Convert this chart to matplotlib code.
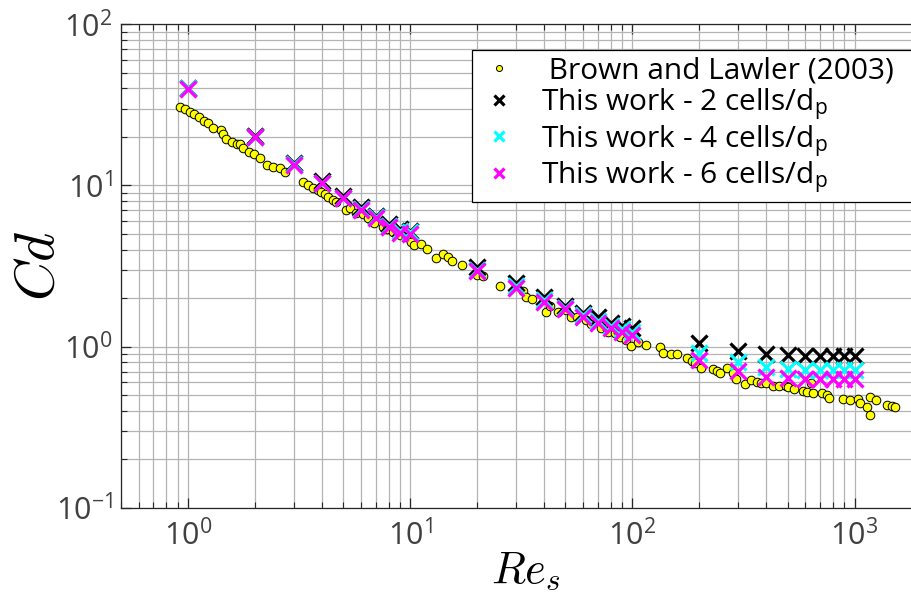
import matplotlib
matplotlib.use("Agg")
from matplotlib import pyplot as plt

# Brown and Lawler (2003) correlation data
re_exp = [0.918, 0.973, 1.018, 1.065, 1.117, 1.181, 1.231, 1.296, 1.404, 1.438,
          1.489, 1.578, 1.668, 1.709, 1.769, 1.876, 1.983, 2.102, 2.277, 2.415,
          2.588, 2.744, 3.296, 3.47, 3.656, 3.85, 3.96, 4.13, 4.27, 4.50,
          4.66, 5.16, 5.35, 5.73, 6.14, 6.47, 6.86, 7.55, 7.87, 8.38,
          8.98, 9.62, 10.13, 10.38, 11.16, 11.92, 13.13, 14.07, 14.82, 15.5,
          17.1, 20.0, 21.2, 25.3, 32.2, 33.4, 35.2, 41.1, 42.5, 46.4,
          50.5, 53.2, 56.1, 62.2, 65.5, 72.6, 77.8, 83.4, 87.8, 94.1,
          99.1, 106.2, 115.8, 133.0, 137.7, 150.1, 158.1, 175.4, 184.7, 191.1,
          202.8, 229.6, 241.0, 247.7, 267.3, 284.5, 291.4, 321.0, 341.6, 362.3,
          377.6, 399.0, 430.5, 458.3, 491.0, 503.0, 533.5, 583.7, 608.5, 636.5,
          647.7, 711.0, 748.6, 769.6, 889.6, 953.6, 1039.4, 1057.5, 1133.6, 1173.0,
          1173.0, 1249.0, 1394.5, 1468.6, 1520.5]
cd_exp = [30.8, 29.7, 28.7, 27.8, 26.5, 25.1, 24.3, 22.6, 22.1, 20.9,
          19.4, 18.7, 18.2, 18.0, 17.0, 16.2, 15.6, 14.9, 13.4, 13.1,
          12.8, 12.2, 10.45, 10.06, 9.68, 9.36, 9.06, 8.84, 8.43, 8.12,
          7.93, 7.04, 7.27, 6.71, 6.61, 6.25, 5.87, 5.54, 5.36, 5.11,
          4.92, 4.81, 4.47, 4.27, 4.31, 4.01, 3.56, 3.73, 3.61, 3.39,
          3.21, 2.78, 2.74, 2.39, 2.22, 2.04, 1.96, 1.645, 1.78, 1.645,
          1.685, 1.53, 1.52, 1.46, 1.39, 1.31, 1.236, 1.21, 1.15, 1.10,
          1.01, 1.07, 1.02, 0.998, 0.916, 0.894, 0.894, 0.845, 0.817, 0.794,
          0.732, 0.721, 0.708, 0.688, 0.732, 0.681, 0.628, 0.582, 0.62, 0.605,
          0.596, 0.591, 0.569, 0.569, 0.569, 0.558, 0.542, 0.532, 0.524, 0.596,
          0.517, 0.517, 0.50, 0.477, 0.47, 0.466, 0.47, 0.444, 0.419, 0.376,
          0.484, 0.466, 0.434, 0.427, 0.423]

# simulations
re_sim = [1, 2, 3, 4, 5, 6, 7, 8, 9, 10, 20, 30, 40, 50, 60, 70, 80, 90, 100,
          200, 300, 400, 500, 600, 700, 800, 900, 1000]
cd_2cells = [40.5, 20.3, 13.8, 10.6, 8.6, 7.3, 6.5, 5.8, 5.4, 5.2, 3.13, 2.47, 2.04,
             1.78, 1.61, 1.52, 1.41, 1.34, 1.31, 1.05, 0.94, 0.90, 0.89, 0.88, 0.88,
             0.88, 0.88, 0.88]
cd_4cells = [40.0, 20.0, 13.5, 10.4, 8.4, 7.1, 6.4, 5.6, 5.2, 5.15, 3.0, 2.36, 1.95,
             1.73, 1.56, 1.45, 1.35, 1.28, 1.24, 0.91, 0.80, 0.75, 0.73, 0.72, 0.72,
             0.72, 0.72, 0.72]
cd_6cells = [39.5, 19.9, 13.4, 10.3, 8.3, 7.0, 6.3, 5.5, 5.1, 5.0, 2.95, 2.30, 1.90,
             1.70, 1.53, 1.41, 1.31, 1.24, 1.18, 0.82, 0.71, 0.65, 0.64, 0.63, 0.63,
             0.63, 0.63, 0.63]

plt.rcParams["font.family"] = ["Open Sans", "DejaVu Sans"]
plt.rcParams["mathtext.fontset"] = "custom"
plt.rcParams["mathtext.rm"] = "Open Sans"
plt.rcParams["mathtext.it"] = "Open Sans:italic"

W, H = 912, 594
fig = plt.figure(figsize=(W / 100, H / 100), dpi=100)
# axes run past the right edge of the figure, as in the original export
ax = fig.add_axes([121 / W, 1 - 507.7 / H, (921.4 - 121) / W, (507.7 - 24.3) / H])
ax.set_xscale("log")
ax.set_yscale("log")
ax.set_xlim(0.5, 2000)
ax.set_ylim(0.1, 100)

ax.plot(re_exp, cd_exp, linestyle="none", marker="o", markersize=6.2,
        markerfacecolor="#ffff00", markeredgecolor="black", markeredgewidth=0.7,
        label=" Brown and Lawler (2003)")
ax.plot(re_sim, cd_2cells, linestyle="none", marker="x", markersize=11,
        markeredgewidth=2.3, color="black", label="This work - 2 cells/d$_\\mathrm{p}$")
ax.plot(re_sim, cd_4cells, linestyle="none", marker="x", markersize=11,
        markeredgewidth=2.3, color="#00ffff", label="This work - 4 cells/d$_\\mathrm{p}$")
ax.plot(re_sim, cd_6cells, linestyle="none", marker="x", markersize=11,
        markeredgewidth=2.3, color="#ff00ff", label="This work - 6 cells/d$_\\mathrm{p}$")

ax.set_axisbelow(True)
ax.grid(True, which="both", color="#b4b4b4", linewidth=0.9)
for side in ["top", "left", "bottom"]:
    ax.spines[side].set_color("#262626")
    ax.spines[side].set_linewidth(0.9)
ax.spines["right"].set_visible(False)

ax.tick_params(which="both", direction="in", top=True, right=False, colors="#262626",
               labelcolor="#404040", labelsize=22)
ax.tick_params(which="major", length=7, width=0.9)
ax.tick_params(which="minor", length=4, width=0.8)
ax.tick_params(axis="x", pad=9)
ax.tick_params(axis="y", pad=6)

ax.set_xlabel("$Re_s$", fontsize=32, math_fontfamily="cm")
ax.set_ylabel("$Cd$", fontsize=40, math_fontfamily="cm")
ax.xaxis.set_label_coords(0.505, -0.086)
ax.yaxis.set_label_coords(-0.067, 0.5)

# legend box is wider than the figure, its right side is cut like in the reference
leg = ax.legend(loc="upper left", bbox_to_anchor=(472 / W, 0, 0.6, 1 - 50 / H),
                bbox_transform=fig.transFigure, mode="expand", fontsize=21.5,
                fancybox=False, framealpha=1, edgecolor="black", borderaxespad=0,
                handlelength=1.4, handletextpad=0.7, labelspacing=0.02,
                borderpad=0.22, markerscale=0.7)
leg.get_frame().set_linewidth(0.9)

fig.savefig("out.png", dpi=100)
